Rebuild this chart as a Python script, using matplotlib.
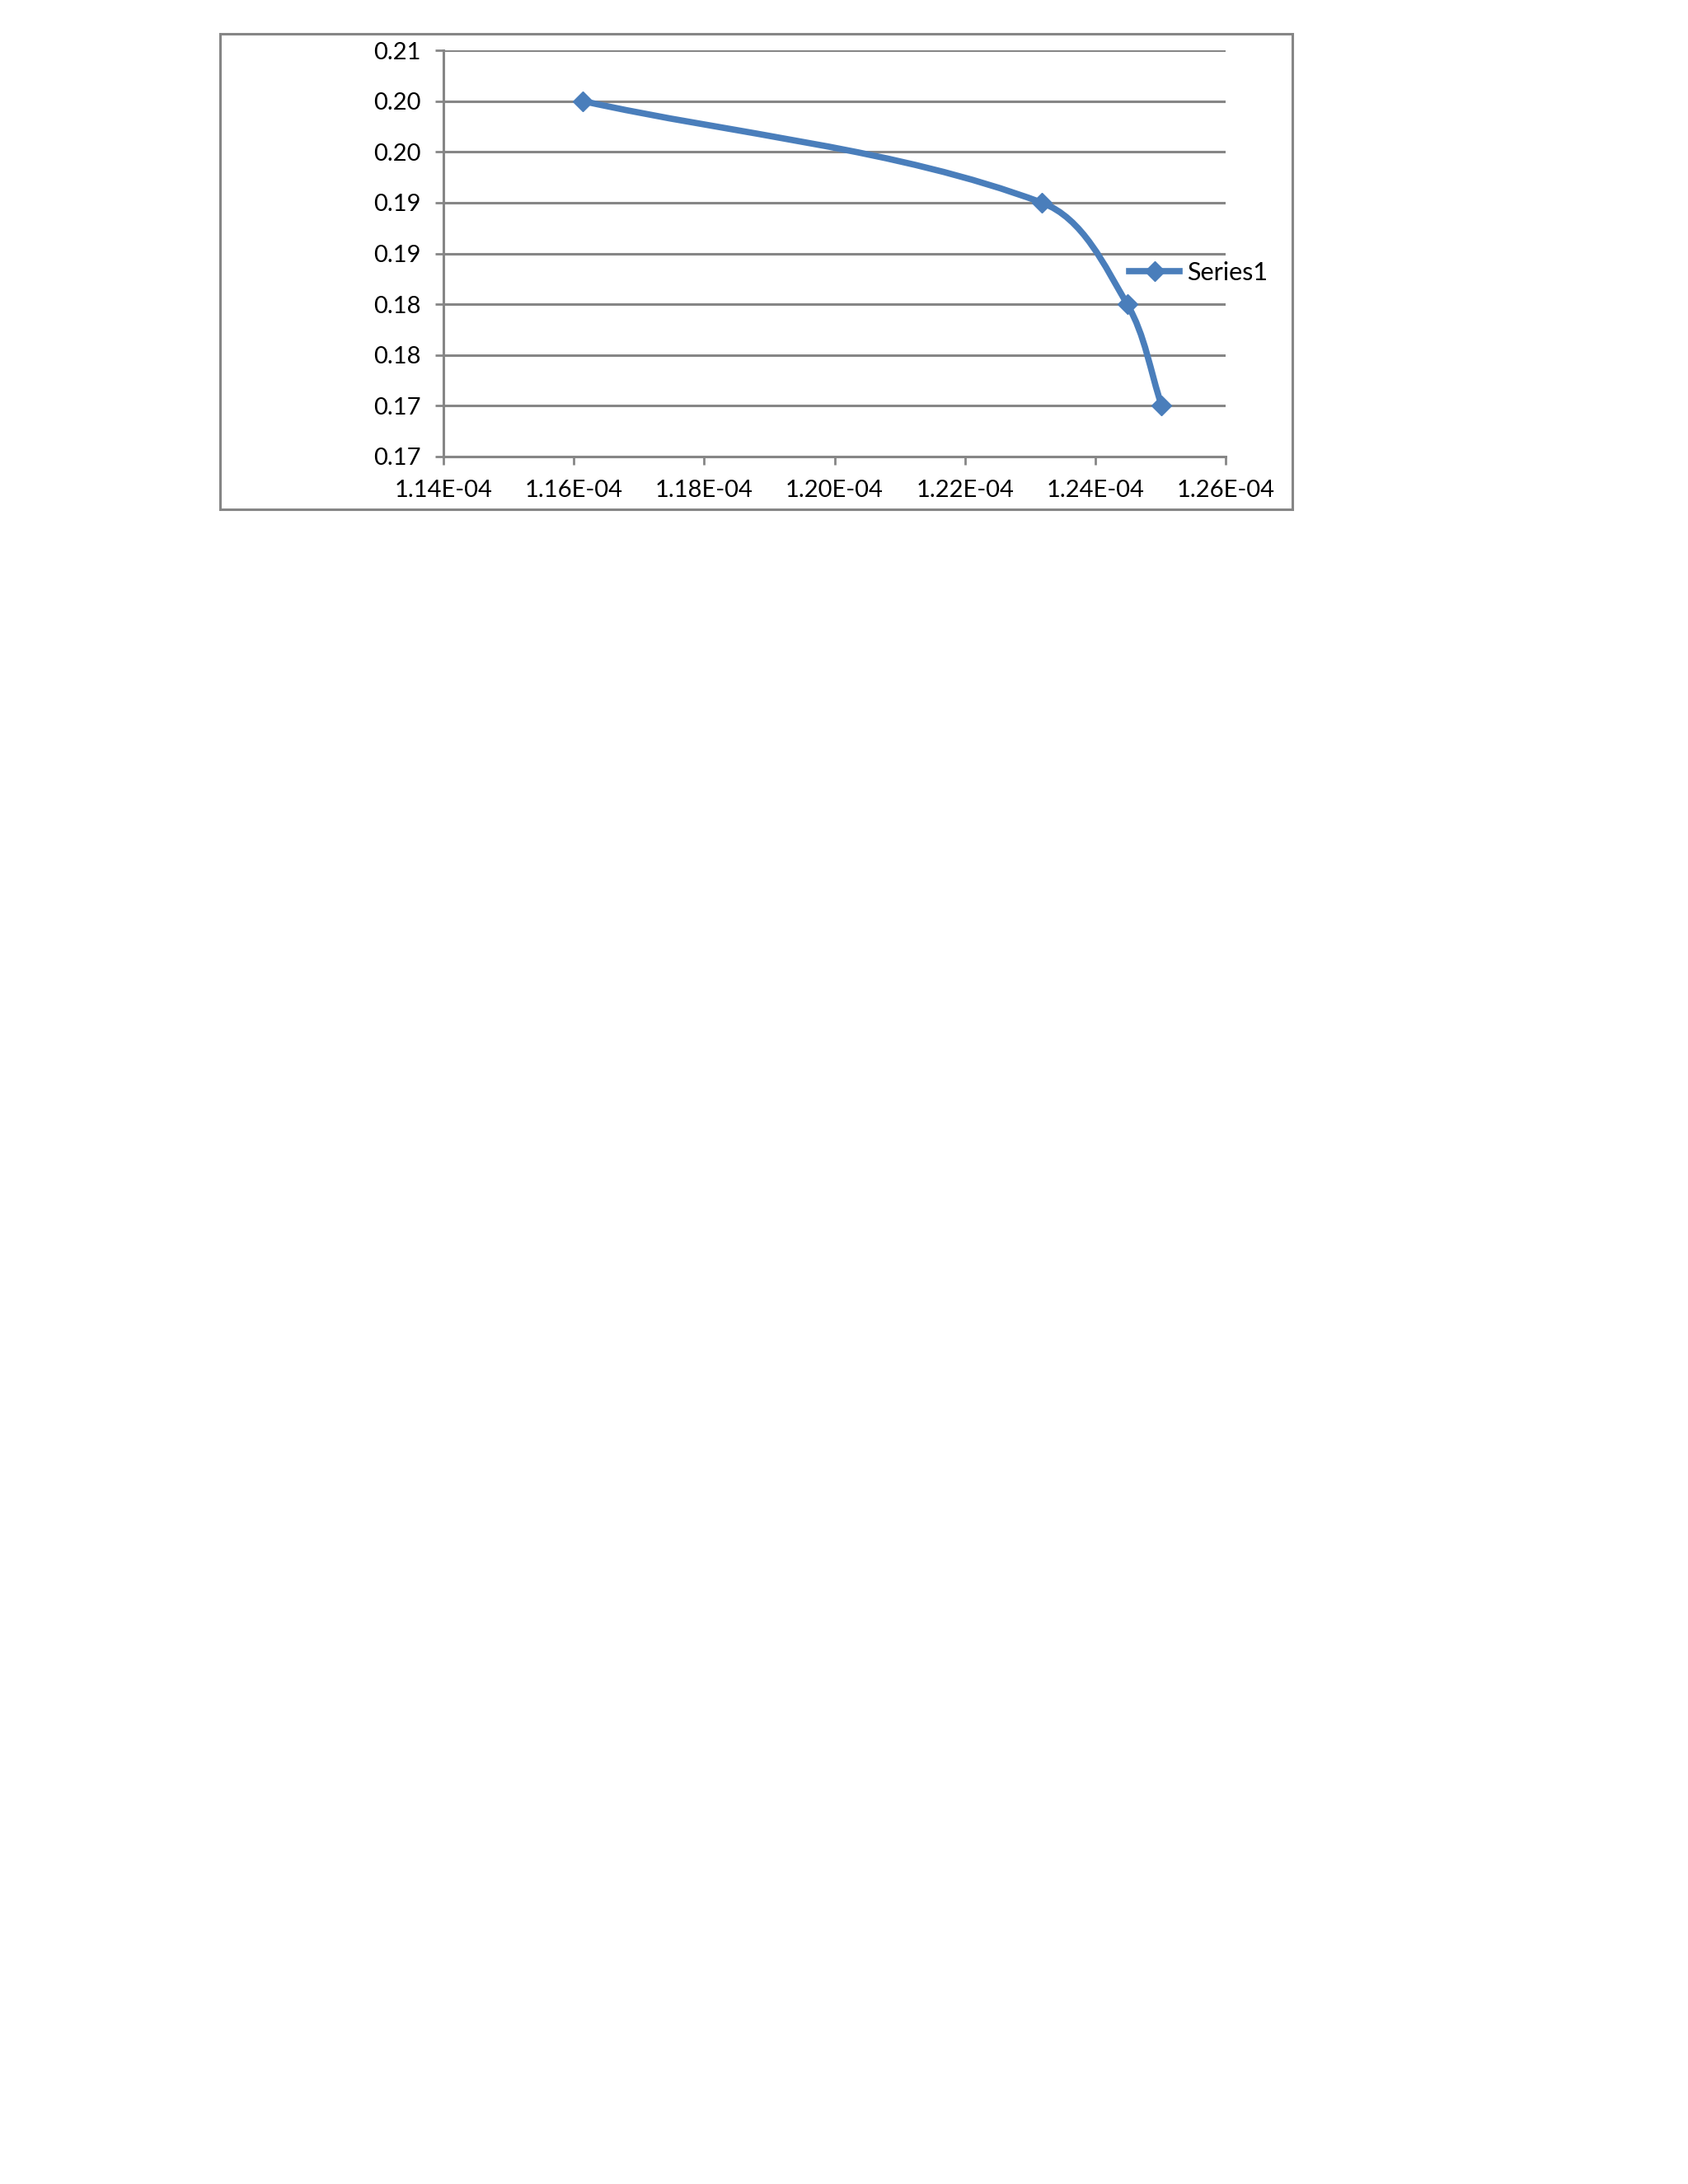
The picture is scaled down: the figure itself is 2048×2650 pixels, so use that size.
import numpy as np
import matplotlib
matplotlib.use("Agg")
from matplotlib import pyplot as plt
from matplotlib.path import Path
from matplotlib.patches import PathPatch, Rectangle
from matplotlib.lines import Line2D

# data
x_vals = [1.1614e-4, 1.2318e-4, 1.2449e-4, 1.2502e-4]
y_vals = [0.205, 0.195, 0.185, 0.175]
series_name = "Series1"
x_ticks = [1.14e-4, 1.16e-4, 1.18e-4, 1.20e-4, 1.22e-4, 1.24e-4, 1.26e-4]
y_ticks = [0.17, 0.175, 0.18, 0.185, 0.19, 0.195, 0.20, 0.205, 0.21]
y_labels = ["0.17", "0.17", "0.18", "0.18", "0.19", "0.19", "0.20", "0.20", "0.21"]

blue = "#4A7EBB"
grey = "#868686"
plt.rcParams["font.family"] = ["Lato", "DejaVu Sans"]

W, H = 2048, 2650
fig = plt.figure(figsize=(W / 100, H / 100), dpi=100)
fig.patch.set_facecolor("white")

# outer chart frame
fig.patches.append(Rectangle((267 / W, 1 - 618 / H), (1568 - 267) / W, (618 - 41) / H,
                             transform=fig.transFigure, fill=False,
                             edgecolor=grey, linewidth=2.2))

ax = fig.add_axes([538 / W, 1 - 554 / H, (1487 - 538) / W, (554 - 61) / H])
ax.set_xlim(x_ticks[0], x_ticks[-1])
ax.set_ylim(y_ticks[0], y_ticks[-1])
ax.set_xticks(x_ticks)
ax.set_yticks(y_ticks)
ax.set_xticklabels(["%.2E" % v for v in x_ticks])
ax.set_yticklabels(y_labels)
ax.tick_params(axis="both", labelsize=21, colors=grey, labelcolor="black", width=2, length=7)
ax.tick_params(axis="y", pad=13)
ax.tick_params(axis="x", pad=13)
for s in ["top", "right"]:
    ax.spines[s].set_visible(False)
for s in ["left", "bottom"]:
    ax.spines[s].set_color(grey)
    ax.spines[s].set_linewidth(2.2)
ax.grid(axis="y", color=grey, linewidth=2.2)
ax.set_axisbelow(True)

# smoothed line: bezier built in screen space, tangent along neighbours
pts = ax.transData.transform(np.column_stack([x_vals, y_vals]))
n = len(pts)
tang = []
for i in range(n):
    d = pts[min(i + 1, n - 1)] - pts[max(i - 1, 0)]
    tang.append(d / np.hypot(*d))
verts = [pts[0]]
codes = [Path.MOVETO]
for i in range(n - 1):
    seg = np.hypot(*(pts[i + 1] - pts[i])) / 3
    verts += [pts[i] + tang[i] * seg, pts[i + 1] - tang[i + 1] * seg, pts[i + 1]]
    codes += [Path.CURVE4] * 3
verts = ax.transData.inverted().transform(np.array(verts))
ax.add_patch(PathPatch(Path(verts, codes), fill=False, edgecolor=blue,
                       linewidth=5.5, capstyle="round", joinstyle="round", zorder=3))
ax.plot(x_vals, y_vals, linestyle="none", marker="D", markersize=12,
        color=blue, zorder=4, clip_on=False)

handle = Line2D([], [], color=blue, linewidth=5.5, marker="D", markersize=12)
fig.legend([handle], [series_name], loc="center left",
           bbox_to_anchor=(1355 / W, 1 - 331 / H), frameon=False,
           fontsize=22, handlelength=2.0, handletextpad=0.3, borderpad=0)

fig.savefig("out.png", dpi=100, facecolor="white")
